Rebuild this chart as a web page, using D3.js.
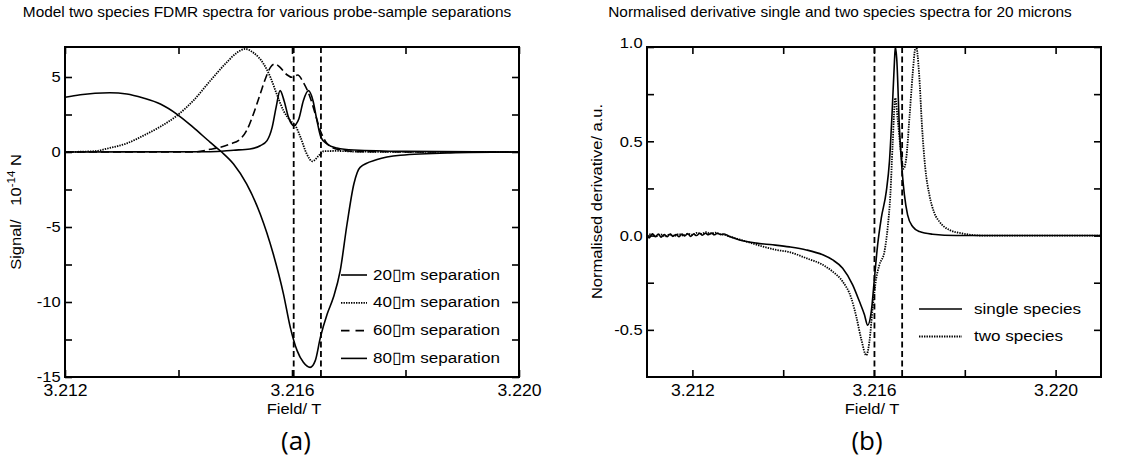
<!DOCTYPE html>
<html>
<head>
<meta charset="utf-8">
<script src="https://cdn.jsdelivr.net/npm/d3@7"></script>
<style>
  body { margin: 0; background: #fff; }
</style>
</head>
<body>
<svg id="chart" width="1134" height="463"></svg>
<script>
// ---- data ----
const fdmrTitle = "Model two species FDMR spectra for various probe-sample separations";
const normTitle = "Normalised derivative single and two species spectra for 20 microns";

const fdmrNames = ["20\u25AFm separation", "40\u25AFm separation", "60\u25AFm separation", "80\u25AFm separation"];
const normNames = ["single species", "two species"];

// field (T), signal (10^-14 N)
const sep20 = [
  [3.21200, 3.65], [3.21227, 3.82], [3.21279, 3.95], [3.21309, 3.87], [3.21338, 3.60],
  [3.21368, 3.20], [3.21397, 2.53], [3.21426, 1.64], [3.21456, 0.64], [3.21476, 0.00],
  [3.21497, -0.80], [3.21520, -2.13], [3.21544, -4.13], [3.21567, -6.80], [3.21585, -9.47],
  [3.21597, -11.69], [3.21609, -13.24], [3.21620, -14.02], [3.21632, -14.36], [3.21641, -13.91],
  [3.21650, -12.36], [3.21662, -10.80], [3.21673, -9.69], [3.21685, -7.91], [3.21697, -4.80],
  [3.21709, -2.13], [3.21720, -1.02], [3.21750, -0.50], [3.21791, -0.22], [3.21879, -0.06],
  [3.22000, 0.00]
];
const sep40 = [
  [3.21200, 0.00], [3.21250, 0.05], [3.21279, 0.27], [3.21309, 0.58], [3.21338, 1.09],
  [3.21368, 1.69], [3.21397, 2.42], [3.21426, 3.42], [3.21456, 4.75], [3.21485, 5.98],
  [3.21503, 6.62], [3.21518, 6.87], [3.21532, 6.62], [3.21550, 5.87], [3.21562, 4.98],
  [3.21573, 3.87], [3.21585, 2.76], [3.21597, 2.09], [3.21606, 1.76], [3.21615, 0.98],
  [3.21626, -0.13], [3.21636, -0.62], [3.21647, -0.25], [3.21656, 0.05], [3.21679, 0.07],
  [3.21720, 0.02], [3.22000, 0.00]
];
const sep60 = [
  [3.21200, 0.00], [3.21426, 0.00], [3.21456, 0.18], [3.21473, 0.31], [3.21491, 0.53],
  [3.21509, 0.87], [3.21520, 1.42], [3.21532, 2.53], [3.21544, 3.87], [3.21553, 4.87],
  [3.21562, 5.64], [3.21570, 5.87], [3.21579, 5.64], [3.21591, 5.15], [3.21600, 4.98],
  [3.21610, 5.13], [3.21620, 4.64], [3.21632, 3.64], [3.21641, 2.53], [3.21650, 1.42],
  [3.21659, 0.71], [3.21670, 0.31], [3.21691, 0.11], [3.21720, 0.02], [3.22000, 0.00]
];
const sep80 = [
  [3.21200, 0.00], [3.21456, 0.02], [3.21497, 0.12], [3.21526, 0.20], [3.21544, 0.42],
  [3.21556, 0.76], [3.21565, 1.64], [3.21572, 2.98], [3.21579, 4.09], [3.21586, 3.42],
  [3.21594, 2.29], [3.21603, 1.76], [3.21612, 2.20], [3.21620, 3.42], [3.21629, 4.09],
  [3.21637, 3.42], [3.21644, 2.09], [3.21651, 0.98], [3.21662, 0.53], [3.21679, 0.27],
  [3.21709, 0.13], [3.21800, 0.04], [3.22000, 0.00]
];

// field (T), normalised derivative (a.u.)
const singleSpecies = [
  [3.21100, 0.000], [3.21105, -0.012], [3.21112, 0.010], [3.21118, -0.006], [3.21125, 0.008],
  [3.21131, -0.008], [3.21138, 0.006], [3.21144, -0.006], [3.21151, 0.008], [3.21157, -0.004],
  [3.21164, 0.006], [3.21170, -0.006], [3.21177, 0.008], [3.21183, -0.002], [3.21190, 0.010],
  [3.21196, -0.004], [3.21203, 0.008], [3.21209, 0.000], [3.21216, 0.012], [3.21222, 0.002],
  [3.21229, 0.012], [3.21235, 0.004], [3.21242, 0.014], [3.21248, 0.004], [3.21255, 0.012],
  [3.21262, 0.006], [3.21270, 0.008], [3.21282, -0.005], [3.21304, -0.023], [3.21341, -0.040],
  [3.21377, -0.049], [3.21414, -0.060], [3.21451, -0.076], [3.21487, -0.102], [3.21509, -0.129],
  [3.21531, -0.173], [3.21553, -0.261], [3.21568, -0.350], [3.21579, -0.420], [3.21586, -0.475],
  [3.21594, -0.403], [3.21601, -0.226], [3.21608, -0.049], [3.21616, 0.092], [3.21627, 0.233],
  [3.21634, 0.392], [3.21640, 0.657], [3.21645, 0.922], [3.21647, 1.000], [3.21650, 0.940],
  [3.21656, 0.570], [3.21662, 0.340], [3.21667, 0.216], [3.21674, 0.110], [3.21685, 0.048],
  [3.21700, 0.021], [3.21729, 0.007], [3.21781, 0.000], [3.22100, 0.000]
];
const twoSpecies = [
  [3.21100, 0.000], [3.21110, 0.008], [3.21120, -0.004], [3.21130, 0.006], [3.21140, -0.004],
  [3.21150, 0.006], [3.21160, -0.002], [3.21170, 0.008], [3.21180, 0.000], [3.21190, 0.010],
  [3.21200, 0.004], [3.21210, 0.014], [3.21220, 0.008], [3.21230, 0.018], [3.21240, 0.010],
  [3.21250, 0.016], [3.21260, 0.008], [3.21270, 0.004], [3.21289, -0.010], [3.21319, -0.032],
  [3.21355, -0.058], [3.21385, -0.076], [3.21414, -0.088], [3.21451, -0.120], [3.21487, -0.155],
  [3.21509, -0.191], [3.21531, -0.244], [3.21550, -0.332], [3.21561, -0.430], [3.21572, -0.550],
  [3.21583, -0.635], [3.21590, -0.560], [3.21597, -0.385], [3.21605, -0.226], [3.21612, -0.155],
  [3.21623, -0.085], [3.21630, 0.039], [3.21636, 0.216], [3.21641, 0.481], [3.21647, 0.729],
  [3.21652, 0.622], [3.21660, 0.428], [3.21665, 0.354], [3.21671, 0.410], [3.21678, 0.622],
  [3.21685, 0.852], [3.21691, 0.994], [3.21693, 1.000], [3.21699, 0.870], [3.21706, 0.570],
  [3.21713, 0.357], [3.21722, 0.216], [3.21733, 0.119], [3.21744, 0.074], [3.21766, 0.030],
  [3.21795, 0.011], [3.21840, 0.000], [3.22100, 0.000]
];

// dashed guide lines (field, T)
const fdmrMarkers = [3.21603, 3.21651];
const normMarkers = [3.21601, 3.21662];

// axes
const fdmrXTicks = [3.212, 3.214, 3.216, 3.218, 3.220];
const fdmrXLabels = [3.212, 3.216, 3.220];
const fdmrYTicks = [-15, -12.5, -10, -7.5, -5, -2.5, 0, 2.5, 5];
const fdmrYLabels = [-15, -10, -5, 0, 5];
const normXTicks = [3.212, 3.214, 3.216, 3.218, 3.220];
const normXLabels = [3.212, 3.216, 3.220];
const normYTicks = [-0.5, -0.25, 0, 0.25, 0.5, 0.75, 1.0];
const normYLabels = [-0.5, 0, 0.5, 1.0];

// ---- drawing ----
const SX = 1.1;   // the original lettering is a little wider than Liberation Sans
const FONT = '"Liberation Sans", Arial, Helvetica, sans-serif';
const DOTS = "1.4,1.1";
const svg = d3.select("#chart");

function label(g, txt, x, y, size, anchor, rot) {
  return g.append("text")
    .attr("transform", "translate(" + x + "," + y + ")" + (rot ? " rotate(" + rot + ")" : "") + " scale(" + SX + ",1)")
    .attr("font-family", FONT)
    .attr("font-size", size)
    .attr("text-anchor", anchor)
    .attr("fill", "#000")
    .text(txt);
}

function drawPanel(p) {
  const x = d3.scaleLinear().domain(p.xDomain).range([p.left, p.right]);
  const y = d3.scaleLinear().domain(p.yDomain).range([p.bottom, p.top]);
  const g = svg.append("g");

  g.append("clipPath").attr("id", "clip-" + p.id)
    .append("rect")
    .attr("x", p.left).attr("y", p.top)
    .attr("width", p.right - p.left).attr("height", p.bottom - p.top);

  const xFmt = d => p.xLabels.includes(d) ? d.toFixed(3) : "";
  const yFmt = d => p.yLabels.includes(d) ? p.yFormat(d) : "";
  const axes = [
    [d3.axisBottom(x).tickValues(p.xTicks).tickFormat(xFmt).tickPadding(8), "translate(0," + p.bottom + ")", 16],
    [d3.axisTop(x).tickValues(p.xTicks).tickFormat(""), "translate(0," + p.top + ")", 16],
    [d3.axisLeft(y).tickValues(p.yTicks).tickFormat(yFmt).tickPadding(4), "translate(" + p.left + ",0)", 15],
    [d3.axisRight(y).tickValues(p.yTicks).tickFormat(""), "translate(" + p.right + ",0)", 15]
  ];
  axes.forEach(([ax, tr, fs]) => {
    const a = g.append("g")
      .attr("transform", tr)
      .call(ax.tickSizeInner(-7).tickSizeOuter(0));
    a.select(".domain").remove();
    a.selectAll(".tick line").attr("stroke", "#000").attr("stroke-width", 1.6);
    a.selectAll(".tick text")
      .attr("font-family", FONT)
      .attr("font-size", fs)
      .attr("fill", "#000")
      .attr("transform", "scale(" + SX + ",1)");
  });
  // top y label sits on its tick instead of centred on it
  g.selectAll(".tick text").filter(d => d === p.yDomain[1]).attr("dy", "0");

  const plot = g.append("g").attr("clip-path", "url(#clip-" + p.id + ")");
  p.markers.forEach(m => {
    plot.append("line")
      .attr("x1", x(m)).attr("x2", x(m))
      .attr("y1", p.top).attr("y2", p.bottom)
      .attr("stroke", "#000")
      .attr("stroke-width", 1.8)
      .attr("stroke-dasharray", "6,3.5");
  });

  const line = d3.line()
    .x(d => x(d[0]))
    .y(d => y(d[1]))
    .curve(d3.curveMonotoneX);

  p.series.forEach(s => {
    plot.append("path")
      .datum(s.data)
      .attr("d", line)
      .attr("fill", "none")
      .attr("stroke", "#000")
      .attr("stroke-width", s.dash === DOTS ? 1.8 : 1.6)
      .attr("stroke-dasharray", s.dash);
  });

  g.append("rect")
    .attr("x", p.left).attr("y", p.top)
    .attr("width", p.right - p.left).attr("height", p.bottom - p.top)
    .attr("fill", "none")
    .attr("stroke", "#000")
    .attr("stroke-width", 2);

  // legend
  p.series.forEach((s, i) => {
    const by = p.legend.y + i * p.legend.step;
    g.append("line")
      .attr("x1", p.legend.x).attr("x2", p.legend.x + p.legend.len)
      .attr("y1", by - 4.5).attr("y2", by - 4.5)
      .attr("stroke", "#000")
      .attr("stroke-width", s.dash === DOTS ? 1.8 : 1.6)
      .attr("stroke-dasharray", s.legendDash);
    label(g, s.name, p.legend.x + p.legend.len + p.legend.gap, by, 15.5, "start");
  });

  label(g, p.title, p.titleX, 16.5, 14, "middle");
  label(g, "Field/ T", p.xLabelX, 414, 15, "middle");
  g.append("text")
    .attr("x", p.tagX).attr("y", 450)
    .attr("font-family", '"Open Sans", "Noto Sans", sans-serif')
    .attr("font-size", 26)
    .attr("text-anchor", "middle")
    .text(p.tag);
  return g;
}

const left = drawPanel({
  id: "a", title: fdmrTitle, titleX: 267, tag: "(a)", tagX: 296, xLabelX: 294,
  left: 65, right: 519, top: 47, bottom: 377,
  xDomain: [3.212, 3.220], yDomain: [-15, 7],
  xTicks: fdmrXTicks, xLabels: fdmrXLabels,
  yTicks: fdmrYTicks, yLabels: fdmrYLabels, yFormat: d => String(d),
  markers: fdmrMarkers,
  series: [
    {name: fdmrNames[0], data: sep20, dash: null, legendDash: null},
    {name: fdmrNames[1], data: sep40, dash: DOTS, legendDash: DOTS},
    {name: fdmrNames[2], data: sep60, dash: "8,4", legendDash: "8.5,6"},
    {name: fdmrNames[3], data: sep80, dash: null, legendDash: null}
  ],
  legend: {x: 341, len: 26, gap: 6, y: 279.5, step: 27.8}
});

const yl = label(left, "", 20.5, 212, 15, "middle", -90);
yl.append("tspan").text("Signal/\u00A0\u00A0 10");
yl.append("tspan").attr("font-size", 10.5).attr("dy", -6).text("-14");
yl.append("tspan").attr("dy", 6).text(" N");

const right = drawPanel({
  id: "b", title: normTitle, titleX: 840, tag: "(b)", tagX: 867, xLabelX: 872,
  left: 647, right: 1101, top: 47, bottom: 377,
  xDomain: [3.211, 3.221], yDomain: [-0.75, 1.0],
  xTicks: normXTicks, xLabels: normXLabels,
  yTicks: normYTicks, yLabels: normYLabels, yFormat: d => d.toFixed(1),
  markers: normMarkers,
  series: [
    {name: normNames[0], data: singleSpecies, dash: null, legendDash: null},
    {name: normNames[1], data: twoSpecies, dash: DOTS, legendDash: DOTS}
  ],
  legend: {x: 919, len: 43, gap: 12, y: 313.5, step: 27.5}
});

label(right, "Normalised derivative/ a.u.", 601.5, 201.5, 15, "middle", -90);
</script>
</body>
</html>
